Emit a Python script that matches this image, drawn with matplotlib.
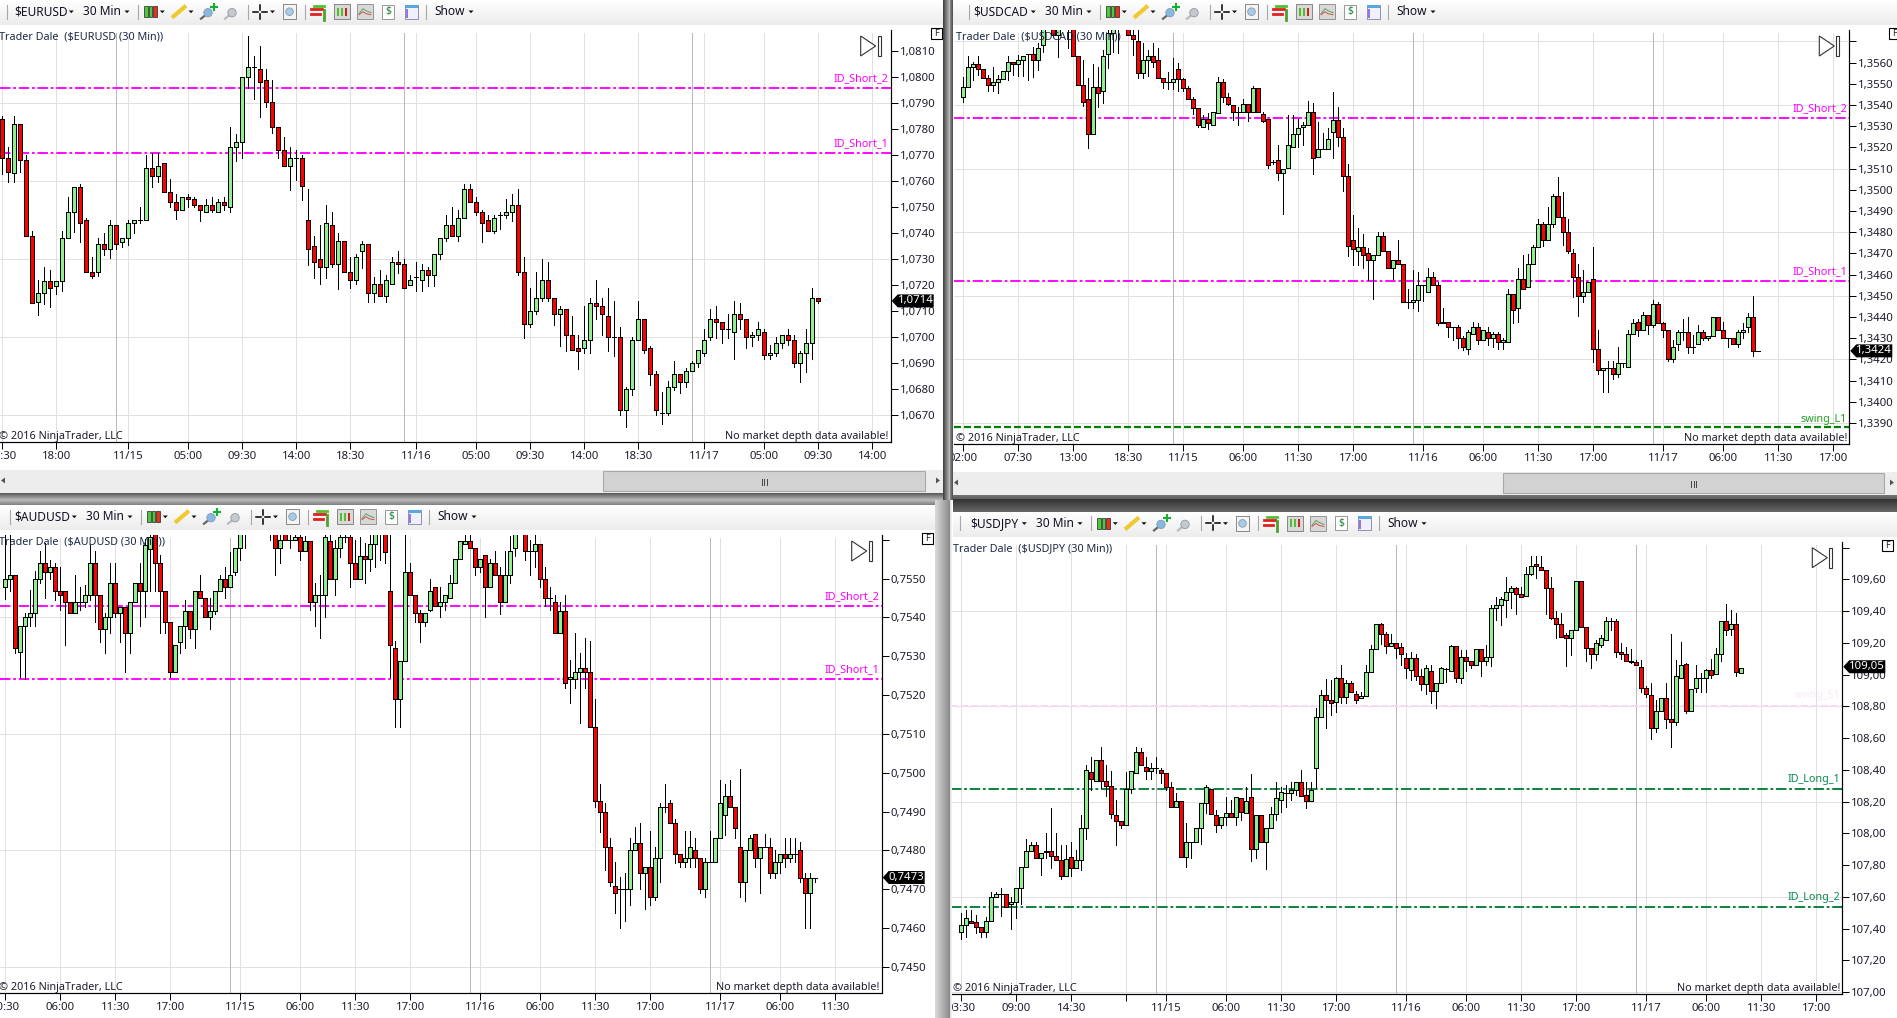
import numpy as np
import matplotlib
matplotlib.use("Agg")
import matplotlib.pyplot as plt
from matplotlib.patches import Rectangle, Polygon, Circle

plt.rcParams['font.family'] = ['Noto Sans', 'DejaVu Sans']
plt.rcParams['lines.scale_dashes'] = False

W, H = 1897, 1018

# (open, close, high, low) in pips from 1.0700
eur_bars = [(84,68.8,85,62.8),(68.8,63.7,73.3,59.9),(63.1,81.9,85.1,59.9),(81.9,68.1,81.9,63.7),(68.1,39,70.1,39),(39,13.1,40.9,13.1),(13.7,16.9,22,8.7),(16.9,21.8,27.2,12.8),(21.8,18.8,25.9,11.8),(19.9,21.8,21.8,16.7),
(21.8,38.1,40.9,17.8),(38.1,48.1,54.1,38.1),(48.1,57.9,57.9,40.6),(57.9,43.8,59,36.8),(45,25,45.8,25),(25,23.7,31,22.9),(25,35.8,38.3,23.7),(35.8,33.8,40.3,31.7),(33.8,43.1,45.1,30.6),(43.1,35.8,43.1,33.8),
(36.8,38.1,38.1,34.9),(38.1,43.8,45.1,35.5),(43.8,45,45,40),(45,45,50.1,43.8),(45,65,70.1,45),(65,61.9,70.8,57.9),(61.9,65.8,70.8,59.9),(66.9,55.8,66.9,55.8),(55.8,51.9,60.9,50),(51.9,48.8,55.1,45.6),
(48.8,53.8,53.8,48.8),(53.8,53.1,55.1,50),(53.1,50.8,53.8,50),(50.8,48.8,50.8,44.9),(48.1,50.8,53.1,48.1),(50.8,48.8,53.8,48.1),(48.1,51.9,53.1,48.1),(51.9,50.8,53.8,48.8),(50,73.1,81,48.1),(73.1,75,78.1,67.9),
(75,100,100,68.8),(100,103.8,115.9,95.8),(103.8,103.8,108.2,91.8),(103.1,98.1,112.1,84.9),(98.8,90.6,103.1,88.7),(90.6,80.8,98.8,78.7),(80.8,71.9,80.8,68.8),(71.9,65.8,76.9,65.8),(65.8,68.8,73.1,56.7),(68.8,68.8,71.9,60.5),
(68.8,58.1,70.1,52.8),(45,33.8,57.1,27.8),(35,28.8,39,22.8),(30,26.9,43.2,20.5),(26.9,43.8,50.9,22.8),(43.1,28.1,48.2,26.9),(28.1,36.9,40.1,18.7),(36.9,25,36.9,25),(25,21.9,31,18.8),(21.9,30.8,31.9,20.6),
(33.1,35.8,36.9,26.8),(35.8,16.9,35.8,13.7),(16.9,20.6,23.1,13.7),(20.6,15.8,25.9,15.8),(15.8,21.9,24,13.7),(20.6,28.8,31,20.6),(28.8,28.1,33.2,24.9),(28.1,18.8,30.1,18.8),(20,21.9,24,20),(23.1,23.1,28.8,17.9),
(21.9,25.8,28.2,17.9),(25.8,23.8,26.9,19.9),(23.8,31.9,31.9,19.9),(31.9,38.1,38.1,30),(38.1,43.1,47.1,36.9),(43.1,38.8,50.1,38.8),(38.8,45.8,49,36.9),(45.8,56.9,59,45.8),(56.9,51.9,59,51.9),(51.9,48.1,53.8,46.9),
(48.1,43.8,48.8,36.8),(45,40.8,46.9,40.8),(40.8,45.8,46.9,40),(46.9,46.9,48.2,41.8),(46.9,48.1,53.1,45.8),(48.1,50.8,55,44.9),(50.8,25,57.1,23.8),(25,5,30.9,-0.1),(5,10,19,3.8),(10,15,25.1,8.8),
(15,21.9,30,13.8),(21.9,15,29,13.8),(15,8.8,15,4.7),(8.8,10.8,12.1,-3.2),(10.8,0.8,10.8,-5.1),(0.8,-5,8.2,-5),(-4.2,-5.1,0.8,-12.1),(-4.2,-1.2,12.1,-6.2),(-1.2,13.1,15,-6.2),(13.1,11.9,22.1,6.9),
(11.9,8.8,15,0.8),(8.1,0,19,-5.1),(0,0,14,-7.1),(0,-28.1,4,-30),(-28.1,-20,-19,-34.4),(-20,-1.2,0,-22.1),(-1.2,6.9,14,-1.2),(6.9,-5,6.9,-6.2),(-4.2,-14.2,-3.2,-18.2),(-14.2,-28.1,-12.9,-30),
(-29.2,-29.2,-21,-33.2),(-29.2,-19.2,-16.9,-30),(-19.2,-14.2,-9.1,-20.3),(-14.2,-17.1,-14.2,-21.3),(-17.1,-13.1,-11.8,-19.2),(-13.1,-10,-9.1,-13.1),(-10,-5,-5,-11.3),(-6.2,-1.2,3.1,-7.1),(0,6.9,10.9,-1.2),(6.9,5.8,12.1,-0.1),
(5.8,3.1,5.8,-2.1),(3.1,3.1,8.8,-0.1),(1.9,8.8,14,-8.2),(8.8,6.9,13.1,3.1),(6.9,0,6.9,-4.2),(0,0.8,2.2,-3.2),(0.8,3.1,5.9,-1.2),(1.9,-6.9,3.1,-8.2),(-6.9,-6.2,-2.9,-8.2),(-6.2,-2.1,0,-7.1),
(-2.1,0.8,0.8,-4.2),(0.8,-1.2,3.1,-3.1),(-1.2,-10,0.8,-11.3),(-10,-6.2,-5.1,-17.2),(-6.2,-2.1,3.1,-13.2),(-2.1,15,19,-8.2),(15,13.8,15,13.1)]

# (open, close, high, low) in pips from 1.3420
cad_bars = [(123.9,128.6,133,121.5),(128.6,137.7,143.1,128.6),(137.7,139.2,140.4,131.8),(139.2,136.8,143.1,134.1),(136.8,132.9,136.8,132.9),(132.9,129.6,134.1,126.7),(129.6,131,137.7,126.7),(131,132.1,134.1,125.8),(132.1,135.8,135.8,132.1),(135.8,140.1,143.1,131.8),
(140.1,139.2,140.1,134.1),(139.2,141,143.6,133.6),(141,142.9,142.9,133.6),(143.9,143.9,143.9,131.8),(143.9,141,147.5,133.3),(141,146.7,149,136.5),(148.1,158,165,145.1),(158,166,170,156),(165,153,168,152),(153,162,168,142.8),
(165,172,175,156),(172,165,175,146.7),(160,142.9,165,142.9),(142.9,129.6,142.9,129.6),(129.6,121.5,141.2,119.5),(123,106.1,132.5,99.8),(106.1,128.6,139.2,106.1),(128.6,125.8,138.1,118.9),(126.7,142.9,145.9,120.8),(143.9,153.8,160,137.3),
(153.8,162,168,145.1),(158,165,168,144.7),(165,170,172,157),(160,153,165,153),(153,150.9,160,143.6),(150,134.9,160,132.9),(134.9,141,149.4,132.9),(141,142.9,145.9,133.6),(142.9,140.1,149.4,138.1),(141,132.9,147,132.9),
(132.9,131,132.9,127.8),(131,131,135.7,127.4),(131,132.1,142,127.4),(136.8,132.1,139.6,126.7),(132.1,127.8,132.5,126.7),(127.8,123,128.9,123),(123,118.7,123.9,115.7),(118.7,110.7,118.7,109.7),(109.7,113.5,115.3,109.7),(113.5,111.6,116,108.8),
(110.7,116.8,116.8,110.7),(116,131,133,116),(131,123.9,132.1,121.5),(123.9,120.6,125.8,119.8),(119.8,116.8,119.8,112.9),(116.8,116.8,119.2,110.5),(116.8,120.6,123,116.8),(120.6,116.8,120.6,112.6),(116.8,127.8,128.9,116.8),(127.8,116.8,127.8,116.8),
(115.9,112.6,116.8,112.1),(113.5,91.8,113.5,90.1),(92.9,92.9,93.8,92),(93.9,87.7,101.1,84.6),(87.7,89.9,89.9,68.7),(90.1,100.9,115.3,90.1),(100,106.1,115.3,100),(106.1,109,113.2,100),(109.7,110.7,112,101.1),(110.7,116.8,121.9,110.7),
(116.8,94.8,120.8,87.6),(95.6,99.1,112,95.6),(99.1,99.1,106.6,99.1),(99.1,103.8,109,99.1),(107.1,112.7,126.1,94.8),(112.7,104.7,119,100.6),(104.7,86.6,109,79.6),(86.6,53.6,92.1,48.9),(56.1,51.9,68.1,44.5),(50.9,52.8,61.8,44.5),
(52.8,49.1,59,42.9),(50,46.7,52.4,37.4),(46.7,49.1,49.1,28.6),(49.1,58,59.9,49.1),(58,50.9,59.9,50.9),(50.9,42.9,50.9,42.9),(42.9,46.7,46.7,37.7),(46.7,44.8,56.3,44.8),(44.8,26.9,44.8,26.9),(26.9,26.9,33.2,24.1),
(26.9,27.8,42,24.1),(27.8,34.9,41.2,23),(34.9,34.9,34.9,27.7),(31.9,38.7,43.2,31.9),(38.7,34.9,41.2,34.9),(34.9,17,36.6,16.2),(17,17.8,24.1,17),(17.8,15.1,17.8,10.4),(15.1,15.1,15.1,9.1),(15.1,9.9,16.2,5.2),
(9.9,5.7,11,4.4),(4.7,12.7,13.8,2.5),(11.8,15.1,17.8,11.8),(15.1,9,17.3,7.1),(9,13.7,13.7,9),(12.7,9.9,15.1,6.8),(9.9,11.8,13.1,5.7),(11.8,8,13.1,4.7),(8,9,9.9,4.7),(8,30.7,33.2,8),
(30.7,23.3,30.7,17),(24.1,37.7,42.9,17.8),(37.7,33,49.2,33),(34,44.8,49.5,34),(44.8,52.8,53.9,44.8),(52.8,63.7,66,52.8),(63.7,56.1,64.9,53.5),(56.1,63.7,71.7,56.1),(63.7,76.9,78,62.6),(76.9,67,86,67),
(67,59.9,78.9,53.9),(59.9,50.9,66,50),(50,38.7,51.9,29.6),(38.7,29.7,44.8,20.6),(29.7,31.9,42.1,26.9),(31.9,36.6,36.6,31.9),(37.7,4.7,52.8,-1.1),(4.7,-5.2,13.8,-7.1),(-5.2,-4.2,-4.2,-15.3),(-4.2,-4.2,-0.8,-15.3),
(-4.2,-7.1,-0.8,-9.4),(-7.1,-1.9,5.7,-8.2),(-1.9,-1.9,-1.9,-3.5),(-3.5,11.8,13.8,-3.5),(11.8,17,18.9,11.8),(17.8,13.7,18.9,11),(13.7,20.9,22.2,13.7),(20.9,16,20.9,11.8),(16,26.1,28,15.4),(26.1,17,27.2,17),
(17,13.7,17.8,10.4),(13.7,0,13.7,-0.8),(0,5.7,9.1,-1.1),(7.1,12.7,13.8,4.4),(12.7,12.7,19,9),(12.7,5.7,20,2.8),(5.7,5.7,11.5,2.8),(7.1,12.7,16.2,7.1),(12.7,9.9,13.8,9),(9.9,10.8,10.8,9),
(10.8,20,20,10.8),(20,13.7,20,13.7),(13.7,9.9,17.8,9.9),(9.9,9.9,9.9,5.7),(9.9,7.1,9.9,7.1),(7.1,12.7,13.8,5.7),(12.7,13.7,17.3,9.9),(15.1,20,22,12.7),(20,3.8,30,1.7),(3.8,3.8,3.8,3.8)]

# (open, close, high, low) in pips from 0.7500
aud_bars = [(47.9,49.8,62,44.8),(49.8,50.8,62,46.9),(50.8,32,50.8,30.9),(31,37.9,37.9,24.7),(37.9,40,41,24),(40,41,47,37.9),(41,49.8,51.9,37.9),(49.8,53.9,57.1,48.9),(53.9,51.8,59.2,44.9),(51.8,52.9,54.8,50),
(52.9,46.9,53.9,44.5),(46.9,45.8,52.9,41.9),(46.9,43.9,46.9,32.9),(43.9,41,43.9,41),(41,43.9,50.9,41),(43.9,43.9,47.9,41.9),(43.9,45.8,48.3,42.7),(45.8,53.9,58.6,44.5),(53.9,45.8,57.1,38.9),(45.8,36.9,45.8,33.7),
(36.9,40,41,30.9),(40,48.9,53.9,35.9),(48.9,41,53.9,40),(41,42.7,42.7,33.7),(42.7,35.9,42.7,25.8),(35.9,43.9,43.9,30.9),(43.9,48.9,48.9,43.9),(48.9,46.9,53.9,37.9),(46.9,58.7,60.1,40),(57.7,60.8,62,46.9),
(63,53.9,64,46.9),(53.9,46.9,56.1,35.9),(46.9,38.9,46.9,35.9),(38.9,25.8,38.9,24.7),(25.8,33,33,25.8),(33.7,37.9,37.9,30.9),(37.9,41.7,44.5,32),(41.7,36.9,41.7,34.8),(36.9,46.9,46.9,32),(46.9,44.9,50.8,44.9),
(44.9,40,44.9,40),(40,41.7,44.9,36.9),(41.7,46.9,46.9,40.9),(46.9,49.8,50.8,46.9),(49.8,47.9,52.9,44.9),(47.9,50.8,56.9,47.9),(51.8,57.8,57.8,50.8),(57.8,62,64,54.8),(62,66,68,57.8),(63,66,68,62),
(64,67,69,62),(66,64,69,62),(65,66,68,62),(64,66,67,60),(62,57.8,64,50.8),(57.8,59.9,62,53.9),(63,59.9,64,59.9),(59.9,59.9,62,57.8),(59.9,60.8,62,59.9),(60.8,57.1,62,54.8),
(57.1,59.7,61,57.1),(59.7,43.9,59.7,41.9),(43.9,45.8,48.9,37.9),(45.8,45.8,50.8,34.8),(45.8,60.8,62,40),(59.7,49.8,62,49.8),(49.8,57.8,59.9,45.8),(57.8,60.8,62,55.6),(60.8,60.8,62,59.5),(60.8,53.9,62,47.9),
(53.9,49.8,59.9,49.8),(49.8,55.9,60.8,49.8),(55.9,54.9,59.1,48.9),(54.9,58.8,62,51.9),(58.8,62,64,52.9),(62,65,66,54.8),(62,56.9,64,53.9),(46.9,33,62,24.7),(32,18.9,34,11.8),(18.9,28.8,28.8,11.8),
(28.8,51.8,62,28.8),(51.8,45.8,53.9,45.8),(45.8,41,45.8,38.9),(41,38.9,41.9,33.7),(38.9,41,41,37.9),(41.9,46.9,49.8,41.7),(47.9,42.9,47.9,42.9),(42.9,43.9,47.9,40),(43.9,45.8,45.8,41.9),(44.9,48.9,50.8,44.9),
(48.9,54.9,54.9,48.9),(54.9,59.7,59.7,54.9),(58.8,59.7,62,58.8),(59.7,57.8,62,57.8),(57.8,52.9,57.8,50.8),(52.9,54.9,54.9,51.8),(56,47.9,56,40),(47.9,53.9,54.9,47.9),(53.9,50.8,57,50.8),(50.8,43.9,52.9,40.9),
(43.9,50.8,57,43.9),(50.8,57,61,48.8),(57.8,62,64,55.8),(63,66,67,62),(62,57,64,54.8),(57,57,59.9,50.8),(57,58.8,62,52.9),(58.8,49.8,58.8,47.9),(49.8,44.9,52.9,42.9),(44.9,44.9,47.9,41.9),
(43.9,35.9,45.8,35.9),(35.9,41.7,43.9,35.9),(41.7,23,45.8,21.9),(24,24.7,29,17.9),(24,25.8,35.9,21.9),(25.8,26.9,30.9,12.9),(26.9,25.8,34.8,21.9),(25.8,11.8,33.9,11.8),(11.8,-7.2,18.9,-8.9),(-7.2,-10,-2.9,-15.2),
(-10,-19.1,-7.9,-25.1),(-19.1,-28.1,-16.9,-29.1),(-29.1,-31.1,-22.9,-36.1),(-30,-30,-26.8,-40.1),(-30,-30,-25.9,-38.1),(-30,-20,-16.9,-34.1),(-20,-18,-13.9,-20),(-18,-25.9,-12.9,-30),(-25.9,-24.2,-24.2,-35),(-24.2,-32.1,-14.9,-34.1),
(-32.1,-22.1,-19.1,-32.8),(-22.1,-8.9,-7.7,-28.1),(-8.9,-8.9,-2.9,-10),(-7.9,-13,-7,-13),(-13,-21,-12,-23.3),(-21,-23.1,-21,-24.2),(-23.1,-22.1,-14.9,-24.2),(-22.1,-19.1,-14.9,-24.2),(-20,-22.1,-16.9,-24.2),(-22.1,-30,-22.1,-31.1),
(-30,-23.1,-22.1,-32.1),(-23.1,-23.1,-14.9,-23.1),(-23.1,-16.9,-16.9,-23.1),(-16.9,-7.9,-1.9,-16.9),(-10.9,-6,-2.9,-16.1),(-6,-8.9,-1.9,-8.9),(-8.9,-14.2,-8.9,-16.9),(-19.1,-28.1,0.9,-32.1),(-28.1,-20,-20,-33),(-20,-16.9,-16.1,-20),
(-15.9,-22.1,-15.9,-24.2),(-22.1,-19.1,-19.1,-31.1),(-19.1,-19.1,-15.9,-19.1),(-19.1,-25.9,-16.9,-27),(-25.9,-23.1,-19.9,-27),(-23.1,-21,-21,-25.9),(-21,-22.1,-16.9,-24.2),(-22.1,-21,-16.9,-23.1),(-21,-21,-16.9,-23.1),(-20,-27,-17.9,-28.1),
(-27,-31.1,-25.9,-40.1),(-31.1,-27,-25.9,-40.1),(-27,-27,-27,-28.1)]

# (open, close, high, low) in hundredths above 108.00
jpy_bars = [(-62.4,-57.9,-50.4,-66.8),(-57.9,-53.5,-48.3,-65.1),(-55,-56.7,-48.3,-56.7),(-55.6,-58.8,-51.4,-63),(-58.8,-61.9,-58.8,-65.1),(-61.9,-55,-52.5,-65.1),(-55,-39.9,-36.7,-55),(-39.9,-38.4,-36.7,-39.9),(-38.4,-38.4,-34.2,-52.1),(-38.4,-46.2,-38.4,-46.6),
(-44.7,-43.4,-39.9,-60),(-43,-34.6,-34.6,-53.5),(-34.6,-21,-21,-44.7),(-21,-10.9,-3.7,-21),(-10.9,-7.3,-5.2,-10.9),(-7.3,-15.3,-5.2,-15.3),(-15.3,-12.1,-12.1,-26),(-11.9,-10.9,0,-15.7),(-10.9,-14,15.8,-22),(-14,-17,0,-17),
(-17,-27,-7.3,-28.7),(-27,-15.9,-7.3,-27),(-15.1,-22,-5.2,-27),(-22,-17,-10.5,-22),(-17,3.2,11.6,-23.1),(3.2,39.7,43.1,-3.7),(38.9,34.1,48.4,27.4),(33,46,46,33),(46,33,54.5,28.4),(33,30.1,43.1,23.8),
(30.1,12,39.5,9.9),(11.6,8,21.1,-7.3),(8,5.1,8,3.2),(5.1,28,38.9,5.1),(28,39.1,39.1,25.3),(37.9,51.5,54.5,37.9),(51.5,43.1,53.6,43.1),(42.1,39.1,48.4,34.1),(39.1,41,44.2,34.1),(41,41,47.9,37.9),
(39.7,37.9,41,31.6),(37.9,29,37.9,27.4),(29,16.8,32.6,16.8),(16.8,20.6,25.3,16.8),(20.6,-15.1,20.6,-15.1),(-15.1,-5.2,6.8,-21),(-5.2,-5.2,-5.2,-15.7),(-5.2,3.2,3.2,-5.2),(3.2,18.9,18.9,-6.9),(18.9,29,30.5,13.1),
(28,12,28,12),(11.6,5.1,14.7,1.1),(5.1,10.1,10.1,3.2),(10.1,13.1,23.2,5.3),(13.1,10.1,21.1,10.1),(10.1,23.2,23.2,5.3),(22.1,13.7,22.1,8.4),(13.1,20.6,29.5,13.1),(23.2,-10,37.4,-17.4),(-10,11.6,11.6,-15.7),
(11.6,-5.6,11.6,-5.6),(-5.2,3.2,3.2,-22.6),(3.2,12,16.8,3.2),(12,22.1,32.6,8.4),(21.1,26.1,29,13.7),(25.7,25.7,30.5,16.8),(25.3,27.4,32.6,21.1),(27.4,32.2,32.2,24.2),(32.2,23.8,40,23.8),(24.2,20.2,32.6,15.8),
(20.2,27.4,32.6,20.2),(41,73.2,78.8,28.4),(73.2,87,90.4,73.2),(87,84.1,97.1,66.4),(84.1,82,96.7,74.6),(82.8,97.7,98.8,76.5),(97.7,85.8,106.1,82),(85.8,94.6,96.7,82),(94.6,88.9,96.3,88.9),(87.6,83.9,90,82),
(85.1,86.8,89.3,85.1),(86.8,101.5,106.1,86.8),(101.5,116,118.7,101.5),(116,131.8,132,116),(131.8,125.5,132.4,119.4),(125.5,118.1,127.1,113.5),(118.1,119.8,125.5,118.1),(119.8,116.6,119.8,110.3),(117.7,112.9,120.2,106.1),(110.8,104.5,113.5,97.7),
(103,110.8,114.5,96.7),(110.8,99.2,113.1,96.7),(99.4,93.9,103.6,90.4),(93.9,104,106.1,87.9),(102.5,89.5,106.1,82.4),(89.5,94.5,94.5,78.8),(94.5,104,105,94.5),(103.6,103.6,104,95.6),(102.5,118.1,118.7,102.5),(118.1,97.7,118.1,95.6),
(97.7,111.3,115.5,94.5),(111.3,108.8,115.5,102.5),(108.8,105.9,108.8,104),(105.9,116.4,116.4,105.9),(116,108.8,116,99.4),(108.8,111.3,118.7,106.1),(111.3,141.8,143.7,105.7),(141.8,143.7,149.2,134.5),(143.7,147.5,149.2,131.3),(147.1,152.3,161.3,136.6),
(152.3,154.4,155.9,141.8),(154.4,150.6,155.5,138.2),(150.6,148.7,155.5,148.7),(149.4,163.2,168.1,149.4),(163.2,168.5,174.8,162.8),(169.5,168.3,174.8,160.9),(167.6,165.8,174.8,165.8),(165.8,154.4,165.8,138.2),(154.4,135.5,161.3,134.9),(135.5,131.7,140.3,122.9),
(131.7,123.7,138.7,123.7),(125,122.9,126,105.7),(122.9,128.2,128.2,112.4),(128.2,159,159,128.2),(159,130.3,159,130.3),(130.3,116.6,130.3,108.8),(116.6,112.8,116.6,104.4),(112.8,119.7,121.8,109.2),(118.5,122.9,125,117.6),(121.6,133.8,136.6,121.6),
(133.8,133.8,135.5,128.2),(133.8,114.5,134.9,111.3),(114.5,112.8,119.7,109.7),(112.8,108.8,117.6,108.8),(108.8,107.8,116,107.1),(107.8,105.9,109.2,105.9),(104.6,91.8,109.2,89.3),(91.8,87.6,92.9,86.1),(87,66.6,94.5,59.7),(66.2,76.9,84,63.7),
(77.3,85.1,85.1,77.3),(85.1,71.8,94.5,66.6),(71.8,70,125.6,54.6),(70,98.9,109.2,68.1),(97.7,105.9,120.6,97.7),(106.5,77.3,107.6,75.6),(77.3,90.8,90.8,77.3),(91.8,97.7,106.1,89.3),(97.7,97.7,100.8,89.3),(97.7,102.7,103.6,89.3),
(102.7,99.6,109.9,97.7),(100.6,113.2,116.6,100.6),(113.2,133.6,133.6,108.6),(133.6,128.2,144.3,125),(128.6,131.9,140.8,125),(131.7,101.5,138.7,99.4),(100.8,104.4,104.4,100.8)]

eur_tick_idx = [0,9,21,31,40,49,58,69,79,88,97,106,117,127,136,145]
eur_tick_lab = ['13:30','18:00','11/15','05:00','09:30','14:00','18:30','11/16','05:00','09:30','14:00','18:30','11/17','05:00','09:30','14:00']
cad_tick_idx = [0,11,22,33,44,56,67,78,92,104,115,126,140,152,163,174]
cad_tick_lab = ['02:00','07:30','13:00','18:30','11/15','06:00','11:30','17:00','11/16','06:00','11:30','17:00','11/17','06:00','11:30','17:00']
aud_tick_idx = [0,11,22,33,47,59,70,81,95,107,118,129,143,155,166]
aud_tick_lab = ['00:30','06:00','11:30','17:00','11/15','06:00','11:30','17:00','11/16','06:00','11:30','17:00','11/17','06:00','11:30']
jpy_tick_idx = [0,11,22,33,41,53,64,75,89,101,112,123,137,149,160,171]
jpy_tick_lab = ['03:30','09:00','14:30','','11/15','06:00','11:30','17:00','11/16','06:00','11:30','17:00','11/17','06:00','11:30','17:00']

eur_levels = [('ID_Short_2',1.07959),('ID_Short_1',1.07709)]
cad_levels = [('ID_Short_2',1.35338),('ID_Short_1',1.34569)]
cad_swing = ('swing_L1',1.3388)
aud_levels = [('ID_Short_2',0.75429),('ID_Short_1',0.75241)]
jpy_levels = [('ID_Long_1',108.28),('ID_Long_2',107.536)]
jpy_swing = ('swing_S1',108.805)

fig = plt.figure(figsize=(W/100, H/100), dpi=100, facecolor='white')

def overlay(z):
    a = fig.add_axes([0,0,1,1], zorder=z)
    a.set_xlim(0,W); a.set_ylim(H,0); a.axis('off'); a.patch.set_alpha(0)
    return a
bg = overlay(0)
top = overlay(20)

TXT = '#1c1c2c'
FONT = 7.8
PX = 0.72

def panel(rect, bars, base, unit, ref_px, ref_price, px_per_unit, x0, dx, tick_idx, tick_lab,
          sessions, yticks, ylabels, grid_vals, levels, lev_col, title, last, last_txt, width):
    L,R,T,B = rect
    ax = fig.add_axes([L/W, 1-B/H, (R-L)/W, (B-T)/H], zorder=5)
    ax.set_xlim((L-x0)/dx, (R-x0)/dx)
    ax.set_ylim(ref_price-(B-ref_px)/px_per_unit, ref_price+(ref_px-T)/px_per_unit)
    b = np.array(bars, float)
    o,c,h,l = [base+b[:,k]*unit for k in range(4)]
    x = np.arange(len(o))
    for s in ['top','left']: ax.spines[s].set_visible(False)
    for s in ['right','bottom']:
        ax.spines[s].set_linewidth(PX*1.2); ax.spines[s].set_color('black')
    ax.yaxis.tick_right()
    ax.set_yticks(yticks); ax.set_yticklabels(ylabels, fontsize=FONT+0.4, color=TXT)
    ax.set_xticks(tick_idx); ax.set_xticklabels(tick_lab, fontsize=FONT+0.4, color=TXT)
    ax.tick_params(axis='y', length=5, width=PX, pad=1.5, color='black')
    ax.tick_params(axis='x', length=5, width=PX, pad=1.2, color='black')
    vtop = 1-3/(B-T)
    trans = ax.get_xaxis_transform()
    for t in tick_idx:
        ax.plot([t,t],[0,vtop],transform=trans,color='#e0e0e0',lw=PX,zorder=1,antialiased=False)
    for t in sessions:
        ax.plot([t,t],[0,vtop],transform=trans,color='#b8b8b8',lw=PX,zorder=1.1,antialiased=False)
    for g in grid_vals:
        ax.axhline(g,color='#e0e0e0',lw=PX,zorder=1,antialiased=False)
    for name,val in levels:
        ax.axhline(val,color=lev_col,lw=1.35,ls=(0,(7.5,2,2,2)),zorder=2)
        ax.text(1-2/(R-L),val+3.5/px_per_unit,name,transform=ax.get_yaxis_transform(),ha='right',va='bottom',
                fontsize=FONT,color=lev_col if lev_col=='#ff00ff' else '#0a8a50',zorder=6)
    ax.vlines(x,l,h,color='black',lw=PX,zorder=3,antialiased=False)
    up = c>=o
    ax.bar(x,np.abs(c-o),bottom=np.minimum(o,c),width=width,
           color=np.where(up,'#90ee90','#ff0000'),edgecolor='black',linewidth=PX,zorder=4,antialiased=False)
    px = (lambda X:(X-L)/(R-L)); py=(lambda Y:(B-Y)/(B-T))
    xl = L+(-1 if L==0 else 2)
    ax.text(px(xl),py(T+7),title,transform=ax.transAxes,fontsize=FONT,color='#1c2a44',va='center',ha='left',zorder=6)
    ax.text(px(xl),py(B-6),'\u00a9 2016 NinjaTrader, LLC',transform=ax.transAxes,fontsize=FONT,color=TXT,va='center',ha='left',zorder=6)
    ax.text(px(R-2),py(B-6),'No market depth data available!',transform=ax.transAxes,fontsize=FONT,color=TXT,va='center',ha='right',zorder=6)
    tagy = ref_px-(last-ref_price)*px_per_unit
    top.add_patch(Polygon([(R+1,tagy),(R+7,tagy-6.5),(R+43,tagy-6.5),(R+43,tagy+6.5),(R+7,tagy+6.5)],fc='black',ec='none'))
    top.text(R+25,tagy,last_txt,color='white',fontsize=FONT+0.4,ha='center',va='center')
    ix = R-30
    ty = T+6
    top.add_patch(Polygon([(ix,ty),(ix+15,ty+10),(ix,ty+20)],fc='white',ec='#333333',lw=0.8))
    top.add_patch(Rectangle((ix+17,ty),3,20,fc='white',ec='#333333',lw=0.8))
    top.add_patch(Rectangle((R+40,T-2),11,11,fc='white',ec='black',lw=0.8))
    top.text(R+45.5,T+3.5,'F',fontsize=6.5,ha='center',va='center',color='#222222')
    return ax

def arrow(a,x,y):
    a.add_patch(Polygon([(x-2.5,y-1.2),(x+2.5,y-1.2),(x,y+1.5)],fc='#111111',ec='none',zorder=3))

def toolbar(ox, oy, x_left, x_right, sym, sym_x):
    a = bg
    g = np.linspace(1,0.925,20).reshape(-1,1)
    a.imshow(g,extent=(x_left,x_right,oy+25,oy),cmap='gray',vmin=0,vmax=1,aspect='auto',zorder=1)
    a.set_xlim(0,W); a.set_ylim(H,0)
    cy = oy+11.7
    for sx in [6.5,137.5,247.5,305,426]:
        a.plot([sx+ox,sx+ox],[cy-7,cy+7],color='#a8a8a8',lw=0.8,zorder=2)
    a.text(sym_x,cy,sym,fontsize=8.6,color='#111122',va='center',ha='left',zorder=3)
    a.text(82.7+ox,cy,'30 Min',fontsize=8.6,color='#111122',va='center',ha='left',zorder=3)
    a.text(434+ox,cy,'Show',fontsize=8.6,color='#111122',va='center',ha='left',zorder=3)
    for ax_ in [71.3,127,162.3,191,272.5,471]:
        arrow(a,ax_+ox,cy)
    for bx,col in [(146,'#4bc83c'),(150.5,'#4bc83c'),(155,'#e83020')]:
        a.add_patch(Rectangle((bx+ox-1.7,cy-5.5),3.4,11,fc=col,ec='#222222',lw=0.5,zorder=3))
    a.plot([172+ox,186+ox],[cy+6,cy-6],color='#f0c830',lw=3,solid_capstyle='butt',zorder=3)
    for mx,col in [(208,'#86b8e0'),(232,'#c8c8c8')]:
        a.plot([mx-7+ox,mx-2+ox],[cy+7,cy+3],color='#666666' if mx==208 else '#bbbbbb',lw=1.6,zorder=3)
        a.add_patch(Circle((mx+ox,cy+1),4.2,fc=col,ec='#8a9ab0',lw=0.6,zorder=3))
    a.plot([214+ox,214+ox],[cy-8,cy-2],color='#10b030',lw=1.5,zorder=4)
    a.plot([211+ox,217+ox],[cy-5,cy-5],color='#10b030',lw=1.5,zorder=4)
    a.plot([253+ox,258+ox],[cy,cy],color='k',lw=1.1,zorder=3); a.plot([262+ox,267+ox],[cy,cy],color='k',lw=1.1,zorder=3)
    a.plot([260+ox,260+ox],[cy-7,cy-2],color='k',lw=1.1,zorder=3); a.plot([260+ox,260+ox],[cy+2,cy+7],color='k',lw=1.1,zorder=3)
    a.add_patch(Rectangle((283+ox,cy-7.5),13,15,fc='#f4f4f4',ec='#777777',lw=0.6,zorder=3))
    a.add_patch(Circle((289.5+ox,cy),3.8,fc='#a8cce8',ec='#8a9ab0',lw=0.6,zorder=4))
    a.plot([311+ox,322+ox],[cy-3,cy-3],color='#e02020',lw=2,zorder=3); a.plot([311+ox,320+ox],[cy+2,cy+2],color='#e02020',lw=2,zorder=3)
    a.plot([314+ox,324+ox],[cy-6,cy-6],color='#50c030',lw=2,zorder=3); a.plot([324+ox,324+ox],[cy-2,cy+8],color='#50a030',lw=2,zorder=3)
    a.add_patch(Rectangle((334+ox,cy-7.5),16,15,fc='#d8d8d8',ec='#777777',lw=0.6,zorder=3))
    for bx,col in [(338,'#50c030'),(342,'#50c030'),(346,'#d02020')]:
        a.add_patch(Rectangle((bx+ox-1,cy-4),2.2,8,fc=col,ec='none',zorder=4))
    a.add_patch(Rectangle((357+ox,cy-7.5),16,15,fc='#d8d8d8',ec='#888888',lw=0.6,zorder=3))
    a.plot(np.array([359,363,366,371])+ox,[cy+2,cy-3,cy-1,cy+1],color='#60a060',lw=0.7,zorder=4)
    a.plot(np.array([359,363,366,371])+ox,[cy+3,cy,cy+2,cy+3],color='#d05050',lw=0.7,zorder=4)
    a.add_patch(Rectangle((382+ox,cy-7),12,14,fc='white',ec='#888888',lw=0.6,zorder=3))
    a.text(388+ox,cy,'$',fontsize=7.5,fontweight='bold',color='#108030',ha='center',va='center',zorder=4)
    a.add_patch(Rectangle((405+ox,cy-7),13,14,fc='#eef0fa',ec='#8080a8',lw=0.6,zorder=3))
    a.add_patch(Rectangle((405+ox,cy-7),13,3,fc='#58a8e0',ec='none',zorder=4))
    a.add_patch(Rectangle((406+ox,cy-3),2,9,fc='#a070e0',ec='none',zorder=4))

bg.add_patch(Rectangle((0,0),W,H,fc='white',ec='none',zorder=0))
toolbar(0,0,0,943,'$EURUSD',14)
toolbar(962,0,953,W,'$USDCAD',973.3)
toolbar(3,505,0,935,'$AUDUSD',14)
toolbar(953,511.7,953,W,'$USDJPY',970)

def scrollbar(x_l,x_r,y_t,y_b,tx_l,tx_r):
    bg.add_patch(Rectangle((x_l,y_t),x_r-x_l,y_b-y_t,fc='#ededed',ec='none',zorder=1))
    bg.add_patch(Rectangle((tx_l,y_t+1),tx_r-tx_l,y_b-y_t-3,fc='#d2d2d2',ec='#a8a8a8',lw=0.8,zorder=2))
    cx=(tx_l+tx_r)/2
    for d in (-2.5,0,2.5):
        bg.plot([cx+d,cx+d],[(y_t+y_b)/2-3,(y_t+y_b)/2+3],color='#444444',lw=0.7,zorder=3)
    arrow_y=(y_t+y_b)/2-1
    bg.add_patch(Polygon([(x_r-3,arrow_y),(x_r-7,arrow_y-3),(x_r-7,arrow_y+3)],fc='#555555',ec='none',zorder=3))
    bg.add_patch(Polygon([(x_l+1,arrow_y),(x_l+5,arrow_y-3),(x_l+5,arrow_y+3)],fc='#555555',ec='none',zorder=3))
scrollbar(0,943,470,493,602.7,925.3)
scrollbar(953,W,472,495,1503,1884)

panel((0,890.7,30,442.3),eur_bars,1.07,1e-4,337.3,1.07,26000,2.33,6,eur_tick_idx,eur_tick_lab,[19,67,115],
      [round(1.067+0.001*k,4) for k in range(15)],[f'{1.067+0.001*k:.4f}'.replace('.',',') for k in range(15)],
      [1.079,1.076,1.073,1.070,1.067],eur_levels,'#ff00ff','Trader Dale  ($EURUSD (30 Min))',1.0714,'1,0714',0.68)
axc = panel((954,1849.3,30,444.3),cad_bars,1.342,1e-4,359.33,1.342,21200,963.33,5,cad_tick_idx,cad_tick_lab,[42,90,138],
      [round(1.339+0.001*k,4) for k in range(19)],[f'{1.339+0.001*k:.4f}'.replace('.',',') if k<18 else '' for k in range(19)],
      [1.357,1.354,1.351,1.348,1.345,1.342,1.339],cad_levels,'#ff00ff','Trader Dale  ($USDCAD (30 Min))',1.3424,'1,3424',0.74)
axc.axhline(cad_swing[1],color='#008000',lw=1.6,ls=(0,(5,2.2)),zorder=2)
axc.text(1-2/(1849.3-954),cad_swing[1]+0.00012,cad_swing[0],transform=axc.get_yaxis_transform(),ha='right',va='bottom',fontsize=FONT,color='#20a020',zorder=6)
panel((0,881.7,535,993.3),aud_bars,0.75,1e-4,772.67,0.75,38830,5.33,5,aud_tick_idx,aud_tick_lab,[45,93,141],
      [round(0.745+0.001*k,4) for k in range(12)],[f'{0.745+0.001*k:.4f}'.replace('.',',') if k<11 else '' for k in range(12)],
      [0.754,0.751,0.748,0.745],aud_levels,'#ff00ff','Trader Dale  ($AUDUSD (30 Min))',0.7473,'0,7473',0.74)
axj = panel((951,1842.3,541.7,994),jpy_bars,108.0,0.01,833.33,108.0,158.67,961.33,5,jpy_tick_idx,jpy_tick_lab,[39,87,135],
      [round(107+0.2*k,1) for k in range(15)],[f'{107+0.2*k:.2f}'.replace('.',',') if k<14 else '' for k in range(15)],
      [109.4,108.8,108.2,107.6,107.0],jpy_levels,'#067a3a','Trader Dale  ($USDJPY (30 Min))',109.05,'109,05',0.74)
axj.axhline(jpy_swing[1],color='#f5d8f5',lw=1.4,ls=(0,(5,2.2)),zorder=1.5)
axj.text(1-2/(1842.3-951),jpy_swing[1]+0.03,jpy_swing[0],transform=axj.get_yaxis_transform(),ha='right',va='bottom',fontsize=FONT,color='#f8ecf8',zorder=6)

def vgrad(a,x0,x1,y0,y1,c0,c1,z=10):
    g=np.linspace(c0,c1,16).reshape(1,-1)
    a.imshow(g,extent=(x0,x1,y1,y0),cmap='gray',vmin=0,vmax=1,aspect='auto',zorder=z)
def hgrad(a,x0,x1,y0,y1,c0,c1,z=10):
    g=np.linspace(c0,c1,16).reshape(-1,1)
    a.imshow(g,extent=(x0,x1,y1,y0),cmap='gray',vmin=0,vmax=1,aspect='auto',zorder=z)
hgrad(top,0,943,493,500,0.35,0.72)
hgrad(top,0,935,500,505,0.72,0.5)
hgrad(top,953,W,495,500,0.45,0.35)
hgrad(top,953,W,500,512,0.2,0.4)
vgrad(top,943,950,0,500,0.25,0.75)
vgrad(top,950,953,0,500,0.55,0.3)
vgrad(top,935,950,500,H,0.85,0.55)
vgrad(top,950,952,500,H,0.85,0.98)
top.set_xlim(0,W); top.set_ylim(H,0)

fig.savefig('out.png',dpi=100,facecolor='white')
